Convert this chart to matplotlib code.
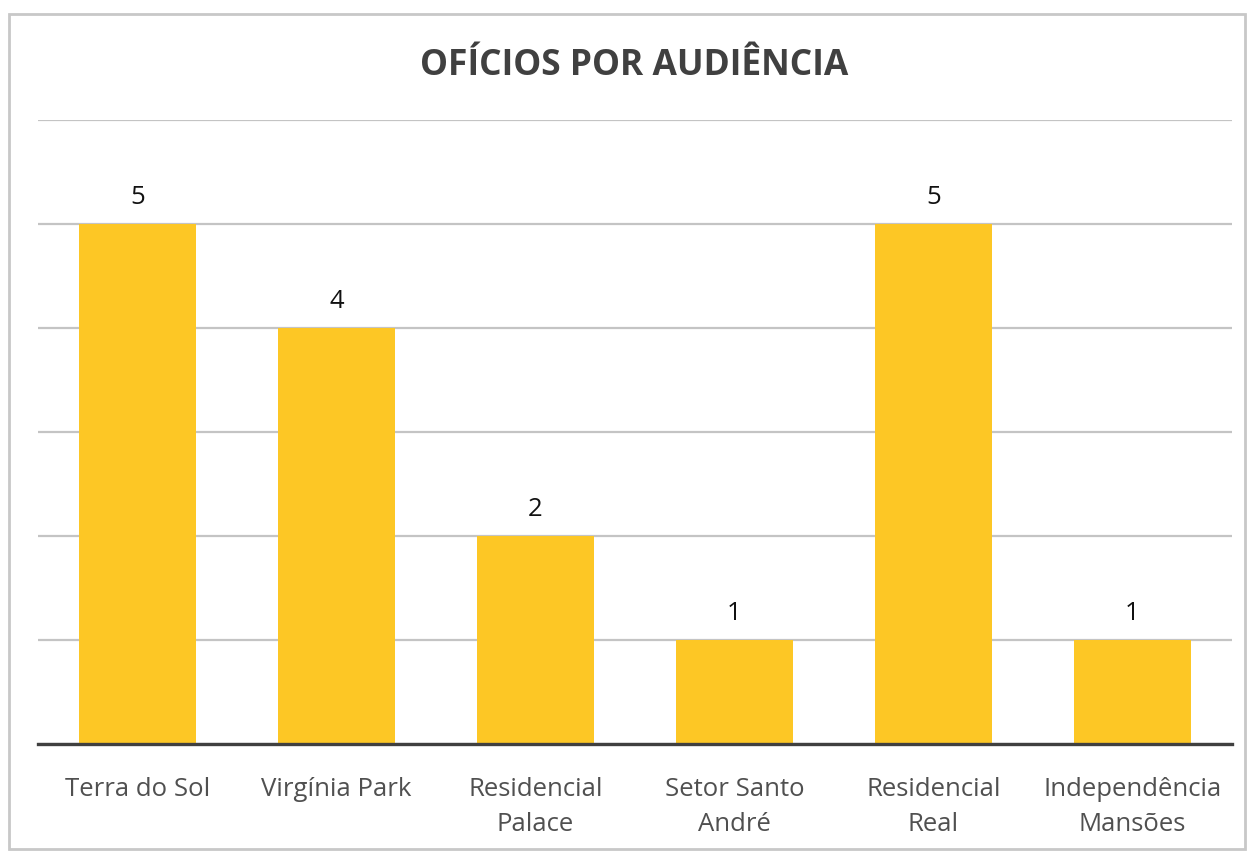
import matplotlib.pyplot as plt
from matplotlib.patches import Rectangle

plt.rcParams['font.family'] = ['Open Sans', 'DejaVu Sans']

categories = ['Terra do Sol', 'Virgínia Park', 'Residencial\nPalace', 'Setor Santo\nAndré',
              'Residencial\nReal', 'Independência\nMansões']
values = [5, 4, 2, 1, 5, 1]

fig = plt.figure(figsize=(12.5, 8.53), dpi=100)
ax = fig.add_axes([0.0304, 0.1266, 0.9552, 0.7315])

x = range(len(categories))
bars = ax.bar(x, values, width=0.59, color='#FDC725', zorder=3)

ax.set_xlim(-0.5, len(categories) - 0.5)
ax.set_ylim(0, 6)
ax.set_yticks(range(0, 7))
ax.yaxis.grid(True, color='#c4c4c4', linewidth=1.6, zorder=0)
ax.tick_params(axis='y', left=False, labelleft=False)
ax.tick_params(axis='x', length=0, pad=23)
ax.set_xticks(list(x))
ax.set_xticklabels(categories, fontsize=18.5, color='#505050', linespacing=1.55)
for side in ['top', 'right', 'left']:
    ax.spines[side].set_visible(False)
ax.spines['bottom'].set_color('#404040')
ax.spines['bottom'].set_linewidth(2.4)
ax.spines['bottom'].set_zorder(4)

for b, v in zip(bars, values):
    ax.annotate(str(v), (b.get_x() + b.get_width() / 2, v), xytext=(0, 11),
                textcoords='offset points', ha='center', va='bottom',
                fontsize=18.5, color='#111111')

fig.text(0.507, 0.923, 'OFÍCIOS POR AUDIÊNCIA', ha='center', va='center',
         fontsize=25.5, fontweight='bold', color='#404040')

fig.patches.append(Rectangle((0.007, 0.003), 0.989, 0.98, transform=fig.transFigure,
                             fill=False, edgecolor='#c8c8c8', linewidth=2))

fig.savefig('out.png', dpi=100)
